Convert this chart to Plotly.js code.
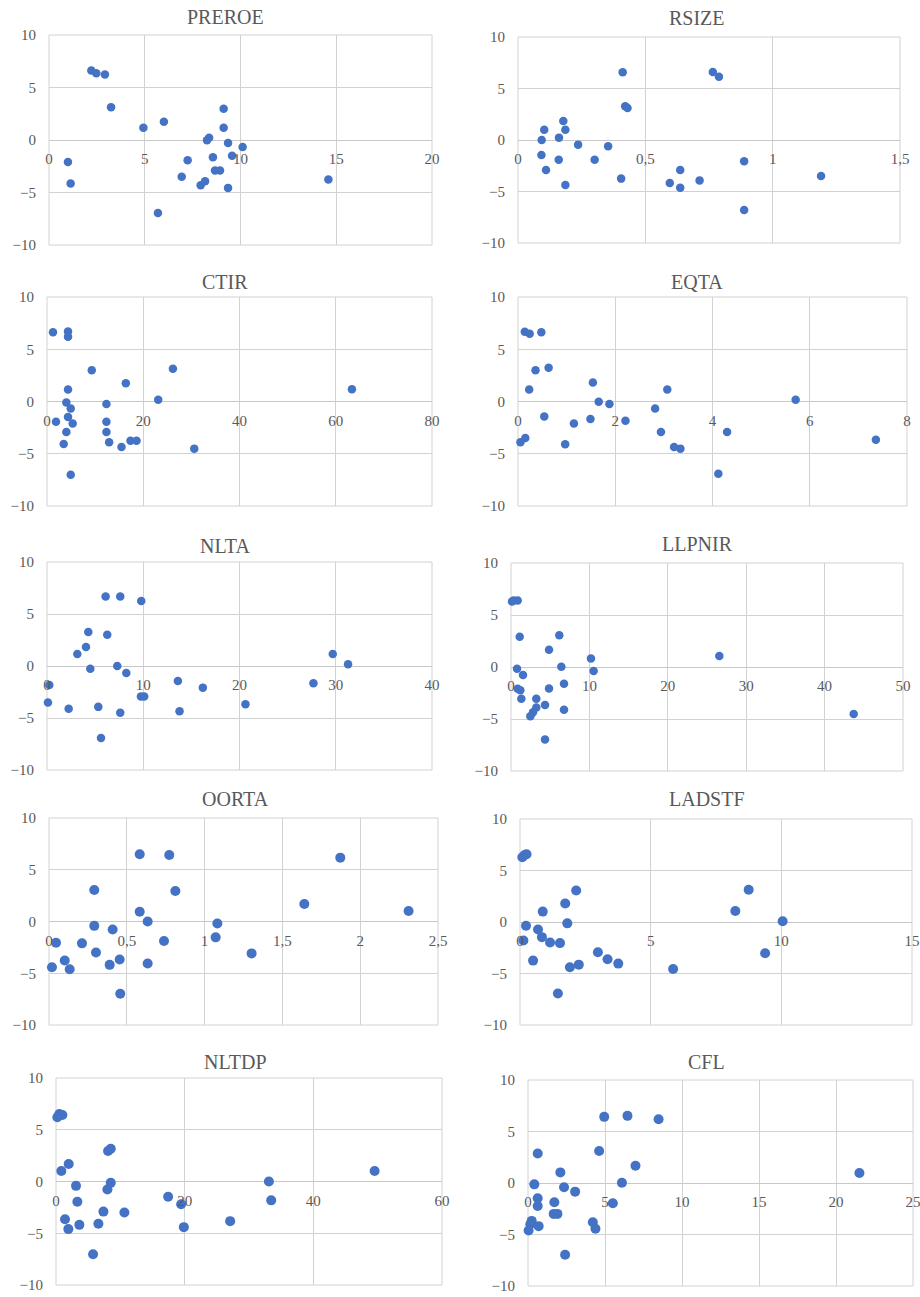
<!DOCTYPE html>
<html><head><meta charset="utf-8">
<script src="https://cdn.plot.ly/plotly-3.0.1.min.js"></script>
<style>html,body{margin:0;padding:0;background:#fff}#chart{width:920px;height:1297px}</style>
</head><body><div id="chart"></div>
<script>
const titles = ['PREROE','RSIZE','CTIR','EQTA','NLTA','LLPNIR','OORTA','LADSTF','NLTDP','CFL'];
const xMax  = [20, 1.5, 80, 8, 40, 50, 2.5, 15, 60, 25];
const xStep = [5, 0.5, 20, 2, 10, 10, 0.5, 5, 20, 5];
const yTicks = [-10, -5, 0, 5, 10];

const preroeX = [2.21,2.47,2.92,3.24,4.93,6.0,9.12,9.12,8.36,8.25,9.35,10.11,8.56,9.56,0.99,7.24,6.93,8.67,8.93,8.15,7.92,1.13,9.35,14.59,5.69];
const preroeY = [6.61,6.36,6.23,3.13,1.17,1.74,2.97,1.17,0.22,-0.03,-0.28,-0.66,-1.65,-1.49,-2.09,-1.93,-3.51,-2.91,-2.91,-3.92,-4.30,-4.15,-4.56,-3.77,-6.96];

const rsizeX = [0.411,0.765,0.789,0.421,0.430,0.178,0.103,0.186,0.161,0.093,0.236,0.354,0.092,0.160,0.301,0.110,0.186,0.405,0.637,0.596,0.637,0.713,0.888,1.190,0.888];
const rsizeY = [6.57,6.60,6.15,3.27,3.11,1.84,1.0,1.0,0.23,0,-0.45,-0.61,-1.46,-1.91,-1.91,-2.91,-4.37,-3.75,-2.91,-4.17,-4.63,-3.92,-2.07,-3.50,-6.80];

const ctirX = [1.25,4.37,4.37,9.30,26.16,16.38,4.37,63.36,23.11,4.02,4.93,12.35,4.37,1.87,5.34,12.35,4.02,12.35,3.47,12.91,15.48,17.35,18.60,30.60,4.93];
const ctirY = [6.63,6.70,6.19,2.98,3.14,1.75,1.14,1.17,0.16,-0.10,-0.67,-0.25,-1.49,-1.94,-2.10,-1.94,-2.92,-2.92,-4.06,-3.90,-4.35,-3.75,-3.75,-4.51,-7.02];

const eqtaX = [0.14,0.24,0.48,0.63,0.36,0.23,1.54,3.07,5.71,1.66,1.88,2.82,0.54,1.49,1.15,2.21,2.94,4.30,0.05,0.15,0.97,3.21,3.34,7.36,4.12];
const eqtaY = [6.67,6.48,6.63,3.24,2.98,1.14,1.81,1.14,0.16,-0.03,-0.25,-0.67,-1.43,-1.68,-2.10,-1.84,-2.92,-2.92,-3.90,-3.49,-4.10,-4.35,-4.51,-3.65,-6.92];

const nltaX = [6.09,7.61,9.79,4.29,6.26,4.05,3.15,29.69,31.28,7.30,4.50,8.24,13.60,27.68,0.24,16.19,9.76,10.10,0.10,20.62,2.25,5.33,7.61,13.77,5.61];
const nltaY = [6.68,6.68,6.26,3.26,3.00,1.82,1.15,1.15,0.16,0,-0.26,-0.67,-1.44,-1.66,-1.82,-2.08,-2.94,-2.94,-3.51,-3.67,-4.12,-3.93,-4.50,-4.35,-6.93];

const llpnirX = [0.13,0.34,0.85,1.11,6.16,4.85,10.20,26.57,6.42,0.77,10.54,1.53,6.76,0.85,1.19,4.85,1.32,3.23,3.23,4.34,6.76,2.81,2.47,43.71,4.34];
const llpnirY = [6.29,6.39,6.39,2.90,3.06,1.65,0.81,1.06,0.03,-0.16,-0.39,-0.77,-1.61,-2.10,-2.23,-2.06,-3.06,-3.06,-3.90,-3.65,-4.10,-4.35,-4.74,-4.52,-6.97];

const oortaX = [0.583,0.773,1.872,0.291,0.812,1.641,0.583,2.311,0.634,1.082,0.291,0.409,1.071,0.739,0.045,0.212,0.302,1.302,0.101,0.454,0.390,0.634,0.019,0.133,0.458];
const oortaY = [6.49,6.43,6.17,3.05,2.95,1.69,0.94,1.01,0,-0.19,-0.42,-0.78,-1.53,-1.88,-2.05,-2.11,-2.99,-3.08,-3.77,-3.67,-4.19,-4.06,-4.42,-4.61,-6.98];

const ladstfX = [0.09,0.18,0.25,2.15,8.75,1.73,0.87,8.24,10.05,0.23,1.81,0.69,0.84,0.13,1.15,1.53,2.98,9.38,0.50,3.35,3.76,2.25,1.91,5.86,1.45];
const ladstfY = [6.29,6.51,6.58,3.06,3.13,1.79,1.01,1.07,0.07,-0.36,-0.13,-0.72,-1.47,-1.79,-1.99,-2.05,-2.93,-3.03,-3.75,-3.62,-4.04,-4.14,-4.40,-4.56,-6.94];

const nltdpX = [0.21,0.52,0.99,8.09,8.51,1.97,0.83,49.53,33.09,8.51,3.11,7.99,17.43,33.45,3.32,19.45,7.37,10.63,1.40,27.07,6.59,3.63,1.92,19.87,5.76];
const nltdpY = [6.20,6.52,6.42,2.94,3.16,1.69,1.02,1.02,0,-0.13,-0.42,-0.77,-1.47,-1.82,-1.95,-2.20,-2.91,-3.00,-3.64,-3.83,-4.09,-4.19,-4.60,-4.41,-7.03];

const cflX = [4.95,6.46,8.48,0.63,4.62,6.98,2.10,21.52,0.41,6.10,2.34,3.06,0.63,0.63,1.71,5.51,1.67,1.91,0.15,0.24,0.69,4.21,4.38,0.04,2.41];
const cflY = [6.42,6.52,6.19,2.87,3.10,1.68,1.03,0.97,-0.13,0.03,-0.42,-0.84,-1.48,-2.23,-1.87,-1.97,-3.00,-3.00,-4.00,-3.68,-4.19,-3.81,-4.45,-4.61,-6.97];

const seriesX = [preroeX, rsizeX, ctirX, eqtaX, nltaX, llpnirX, oortaX, ladstfX, nltdpX, cflX];
const seriesY = [preroeY, rsizeY, ctirY, eqtaY, nltaY, llpnirY, oortaY, ladstfY, nltdpY, cflY];

// plot boxes in page pixels: [left, right, top, bottom]
const boxes = [
  [49, 432, 35, 245], [518, 900, 37, 243],
  [47, 432, 297, 506], [518, 907, 297, 506],
  [47, 432, 562, 770], [511, 903, 563, 771],
  [49, 438, 818, 1025], [520, 912, 819, 1025],
  [56, 442, 1078, 1285], [528, 913, 1080, 1286]
];
const titlePos = [
  [225, 17], [697, 18], [225, 282], [697, 282], [225, 546],
  [697, 544], [235, 799], [707, 799], [235, 1062], [706, 1062]
];
const markerSizes = [8.5, 8.5, 8.5, 8.5, 8.5, 8.5, 10, 10, 10, 10];

const W = 920, H = 1297;
const FONT = 'Liberation Serif, Times New Roman, serif';
const GRAY = '#595959';
const GRID = '#d2d2d2';

const data = [];
const layout = {
  width: W, height: H,
  margin: {l: 0, r: 0, t: 0, b: 0},
  paper_bgcolor: '#ffffff', plot_bgcolor: 'rgba(0,0,0,0)',
  showlegend: false, separators: ',.',
  hovermode: false,
  annotations: [], shapes: []
};

for (let i = 0; i < titles.length; i++) {
  const n = i + 1;
  const xa = 'xaxis' + (n === 1 ? '' : n), ya = 'yaxis' + (n === 1 ? '' : n);
  const xr = 'x' + (n === 1 ? '' : n), yr = 'y' + (n === 1 ? '' : n);
  const [l, r, t, b] = boxes[i];
  const yd = [1 - b / H, 1 - t / H];
  data.push({
    type: 'scatter', mode: 'markers', x: seriesX[i], y: seriesY[i],
    xaxis: xr, yaxis: yr, cliponaxis: false,
    marker: {color: '#4472C4', size: markerSizes[i]}
  });
  layout[xa] = {
    domain: [l / W, r / W], range: [0, xMax[i]], dtick: xStep[i], tick0: 0,
    anchor: 'free', position: (yd[0] + yd[1]) / 2,
    showgrid: true, gridcolor: GRID, gridwidth: 1, zeroline: false, showline: false,
    ticks: '', ticklabelstandoff: 8, ticklabeloverflow: 'allow',
    tickfont: {family: FONT, size: 15, color: GRAY}, fixedrange: true
  };
  layout[ya] = {
    domain: yd, range: [-10, 10], tickvals: yTicks, anchor: xr,
    showgrid: true, gridcolor: GRID, gridwidth: 1,
    zeroline: true, zerolinecolor: '#c8c8c8', zerolinewidth: 1, showline: false,
    ticks: '', ticklabelstandoff: 12,
    tickfont: {family: FONT, size: 15, color: GRAY}, fixedrange: true
  };
  layout.shapes.push({
    type: 'rect', xref: xr + ' domain', yref: yr + ' domain',
    x0: 0, x1: 1, y0: 0, y1: 1, layer: 'below',
    line: {color: GRID, width: 1}
  });
  layout.annotations.push({
    text: titles[i], xref: 'paper', yref: 'paper',
    x: titlePos[i][0] / W, y: 1 - titlePos[i][1] / H,
    xanchor: 'center', yanchor: 'middle', showarrow: false,
    font: {family: FONT, size: 20, color: GRAY}
  });
}

Plotly.newPlot('chart', data, layout, {staticPlot: true, displayModeBar: false});
</script>
</body></html>
